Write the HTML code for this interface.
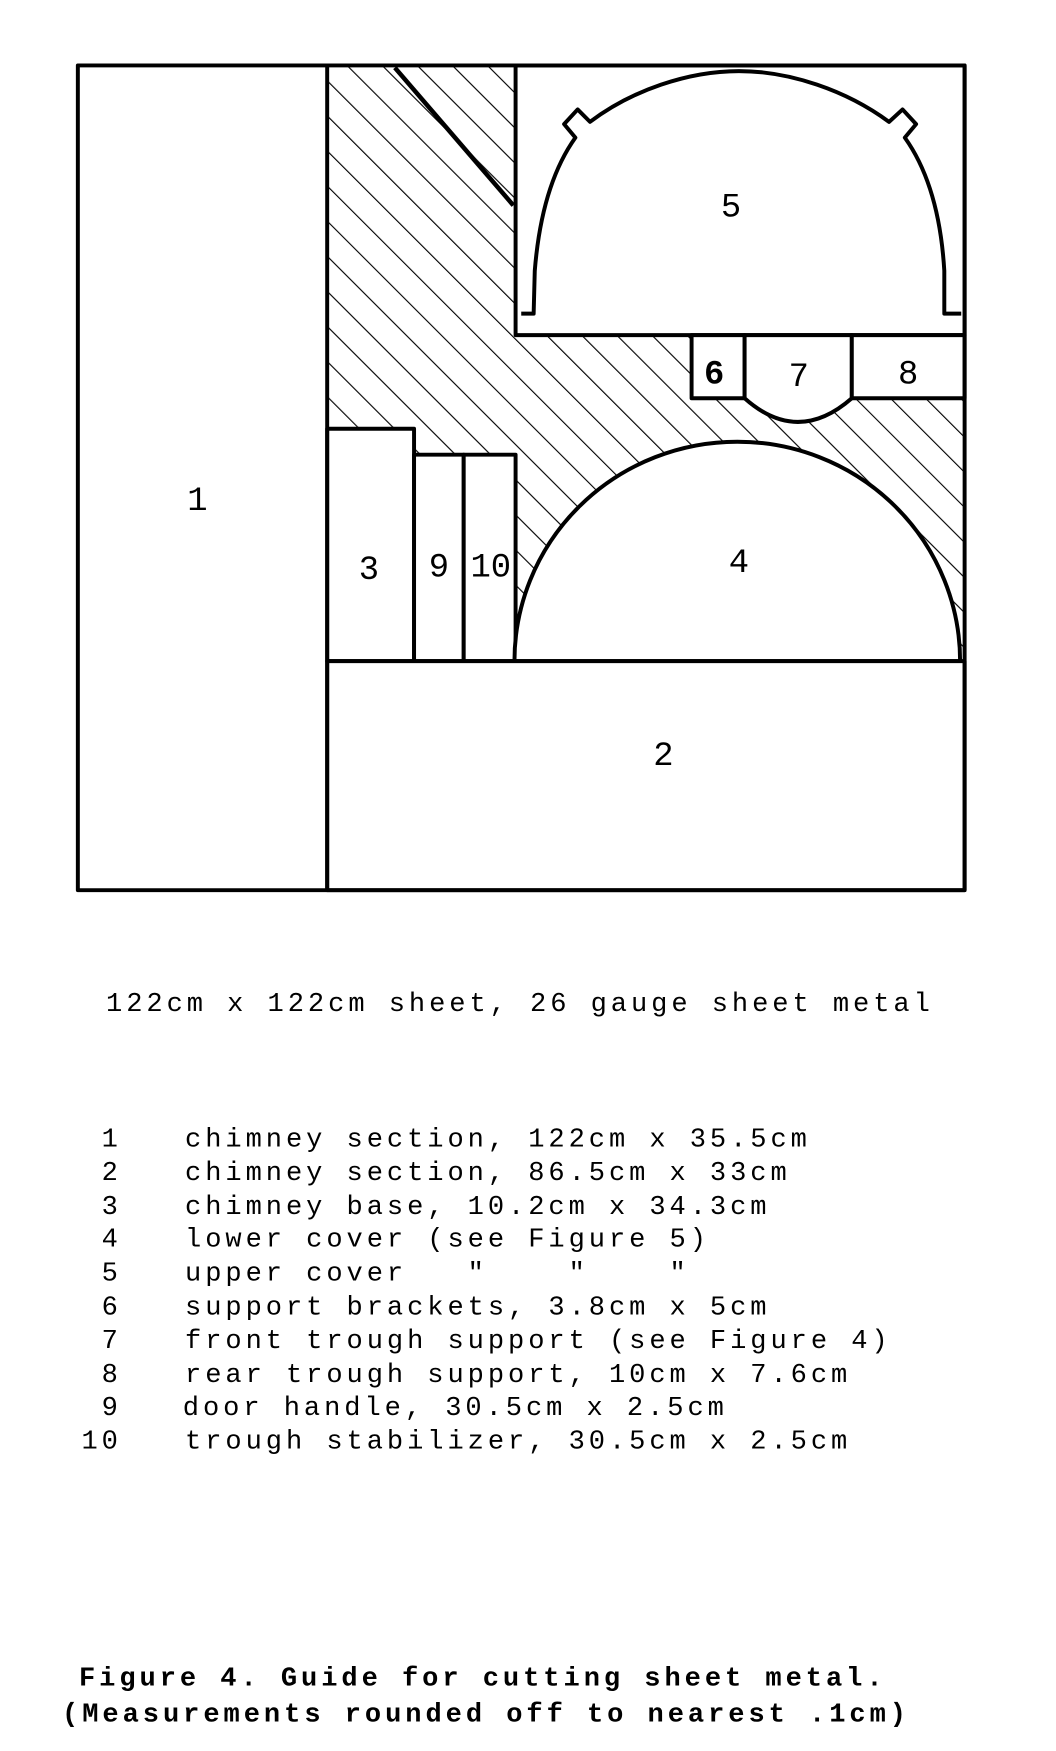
<!DOCTYPE html>
<html><head><meta charset="utf-8"><style>
html,body{margin:0;padding:0;background:#fff;}
svg{display:block;}
text{font-family:"Liberation Mono",monospace;fill:#000;}
.h{font-family:"Liberation Sans",sans-serif;font-size:30px;}
</style></head><body>
<svg width="1056" height="1751" viewBox="0 0 936 1552" xmlns="http://www.w3.org/2000/svg">
<defs>
<pattern id="hatch" patternUnits="userSpaceOnUse" width="22" height="22" patternTransform="rotate(-45)">
<line x1="0" y1="0" x2="0" y2="22" stroke="#000" stroke-width="2"/>
</pattern>
</defs>
<g stroke="#000" stroke-width="3.5" fill="none" stroke-linejoin="round">
<rect x="290" y="58" width="565" height="528" fill="url(#hatch)" stroke="none"/>
<line x1="350" y1="60" x2="455" y2="182" stroke-width="4"/>
<rect x="457" y="58" width="398" height="239" fill="#fff"/>
<path d="M462,278 H473 L474,240 C478,190 490,150 510,122 L500,110 L512,97 L523,108 C560,80 610,63 655,63 C700,63 750,80 788,108 L800,97 L812,110 L802,122 C822,150 834,190 837,240 L837,278 H852"/>
<rect x="613" y="297" width="47" height="56" fill="#fff"/>
<path d="M660,297 H755 V353 Q707,395 660,353 Z" fill="#fff"/>
<rect x="755" y="297" width="100" height="56" fill="#fff"/>
<rect x="290" y="380" width="77" height="206" fill="#fff"/>
<rect x="367" y="403" width="44" height="183" fill="#fff"/>
<rect x="411" y="403" width="46" height="183" fill="#fff"/>
<path d="M456,586 A197,194 0 0 1 851,586 Z" fill="#fff"/>
<rect x="290" y="586" width="565" height="203" fill="#fff"/>
<rect x="69" y="58" width="786" height="731"/>
<line x1="290" y1="58" x2="290" y2="789"/>
</g>
<g class="h" text-anchor="middle">
<text x="175" y="452">1</text>
<text x="588" y="678">2</text>
<text x="327" y="513">3</text>
<text x="389" y="511">9</text>
<text x="435" y="511">10</text>
<text x="655" y="507">4</text>
<text x="648" y="192">5</text>
<text x="633" y="340" font-weight="bold">6</text>
<text x="708" y="342">7</text>
<text x="805" y="340">8</text>
</g>
<g font-size="24" letter-spacing="3.5">
<text x="94" y="896">122cm x 122cm sheet, 26 gauge sheet metal</text>
<g text-anchor="end"><text x="108" y="1016">1</text><text x="108" y="1046">2</text><text x="108" y="1076">3</text><text x="108" y="1105">4</text><text x="108" y="1135">5</text><text x="108" y="1165">6</text><text x="108" y="1195">7</text><text x="108" y="1225">8</text><text x="108" y="1254">9</text><text x="108" y="1284">10</text></g>
<text x="164" y="1016">chimney section, 122cm x 35.5cm</text>
<text x="164" y="1046">chimney section, 86.5cm x 33cm</text>
<text x="164" y="1076">chimney base, 10.2cm x 34.3cm</text>
<text x="164" y="1105">lower cover (see Figure 5)</text>
<text x="164" y="1135">upper cover&#160;&#160;&#160;"&#160;&#160;&#160;&#160;"&#160;&#160;&#160;&#160;"</text>
<text x="164" y="1165">support brackets, 3.8cm x 5cm</text>
<text x="164" y="1195">front trough support (see Figure 4)</text>
<text x="164" y="1225">rear trough support, 10cm x 7.6cm</text>
<text x="162" y="1254">door handle, 30.5cm x 2.5cm</text>
<text x="164" y="1284">trough stabilizer, 30.5cm x 2.5cm</text>
<g font-weight="bold">
<text x="70" y="1494">Figure 4. Guide for cutting sheet metal.</text>
<text x="55" y="1526">(Measurements rounded off to nearest .1cm)</text>
</g>
</g>
</svg>
</body></html>
